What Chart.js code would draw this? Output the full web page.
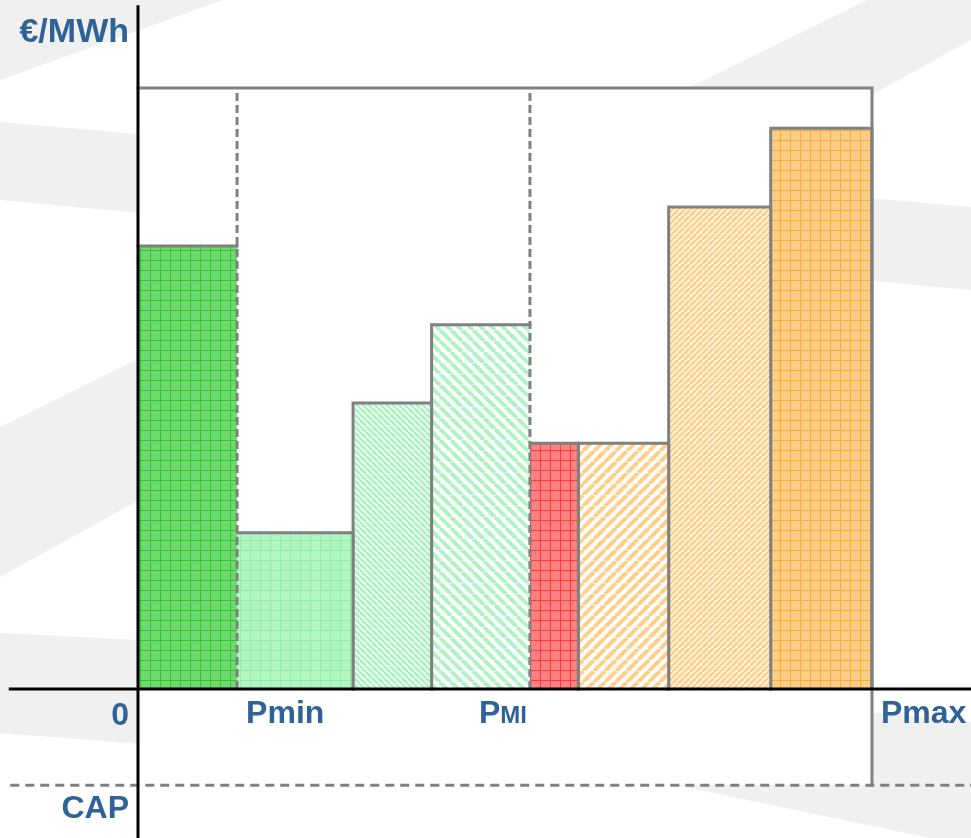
<!DOCTYPE html>
<html>
<head>
<meta charset="utf-8">
<title>Bid curve</title>
<script src="https://cdn.jsdelivr.net/npm/chart.js@4/dist/chart.umd.min.js"></script>
<style>
    html, body { margin: 0; padding: 0; background: #ffffff; }
    #wrap { width: 971px; height: 838px; }
</style>
</head>
<body>
<div id="wrap"><canvas id="bidChart" width="971" height="838"></canvas></div>
<script>
// Bid blocks: capacity edges (MW, 0..Pmax) and the price of each block (€/MWh)
const edgesMW = [0, 13.5, 29.3, 40, 53.4, 60, 72.3, 86.2, 100];
const bidPrices = [73.7, 26, 47.6, 60.6, 40.9, 40.9, 80.2, 93.3];

// reference levels
const priceTop = 100;    // price cap line at the top of the box
const capPrice = -16;    // CAP (floor) line below zero
const axisTopPrice = 113.5;

// x axis marks
const tickValues = [0, 13.5, 53.4, 100];
const tickLabels = ['0', 'Pmin', 'PMI', 'Pmax'];
const dashedAt = [13.5, 53.4];   // Pmin and PMI

// ---- styles ----
const GRAY = '#808080';
const TEXT_BLUE = '#2f6299';
const FONT = '"Liberation Sans", Arial, sans-serif';

function gridPattern(fill, line, step) {
    const c = document.createElement('canvas');
    c.width = step; c.height = step;
    const g = c.getContext('2d');
    g.fillStyle = fill;
    g.fillRect(0, 0, step, step);
    g.fillStyle = line;
    g.fillRect(0, 0, step, 1);
    g.fillRect(0, 0, 1, step);
    return g.createPattern(c, 'repeat');
}

function stripePattern(bg, color, step, width, dir) {
    const c = document.createElement('canvas');
    c.width = step; c.height = step;
    const g = c.getContext('2d');
    g.fillStyle = bg;
    g.fillRect(0, 0, step, step);
    g.strokeStyle = color;
    g.lineWidth = width;
    for (let x0 = -step; x0 <= step; x0 += step) {
        g.beginPath();
        if (dir === '/') {
            g.moveTo(x0, step); g.lineTo(x0 + step, 0);
        } else {
            g.moveTo(x0, 0); g.lineTo(x0 + step, step);
        }
        g.stroke();
    }
    return g.createPattern(c, 'repeat');
}

const bidPatterns = [
    gridPattern('#6fd86f', '#2cc82c', 10),
    gridPattern('#b0f5c2', '#94eca9', 10),
    stripePattern('#f0fcf4', '#a8f0be', 6, 2.5, '\\'),
    stripePattern('#ffffff', '#aef3c4', 11, 4, '\\'),
    gridPattern('#ff8080', '#ff3c3c', 10),
    stripePattern('#ffffff', '#ffcf88', 11, 4, '/'),
    stripePattern('#fff4e2', '#ffcd86', 6, 2.5, '/'),
    gridPattern('#ffcd85', '#ffab38', 10)
];

// ---- datasets ----
const datasets = [];

// black axes on top
datasets.push({
    data: [{ x: -17.4, y: 0 }, { x: 113.5, y: 0 }],
    borderColor: '#000000', borderWidth: 3, order: 0
});
datasets.push({
    data: [{ x: 0, y: -24.8 }, { x: 0, y: axisTopPrice }],
    borderColor: '#000000', borderWidth: 3, order: 0
});

// dashed Pmin / PMI guides
dashedAt.forEach(v => {
    datasets.push({
        data: [{ x: v, y: 0 }, { x: v, y: priceTop }],
        borderColor: GRAY, borderWidth: 3, borderDash: [8, 4], borderCapStyle: 'butt', order: 1
    });
});

// CAP line
datasets.push({
    data: [{ x: -17.4, y: capPrice }, { x: 113.5, y: capPrice }],
    borderColor: GRAY, borderWidth: 3, borderDash: [9, 6], borderCapStyle: 'butt', order: 1
});

// box: top price line and Pmax side
datasets.push({
    data: [{ x: 0, y: priceTop }, { x: 100, y: priceTop }, { x: 100, y: capPrice }],
    borderColor: GRAY, borderWidth: 3, borderJoinStyle: 'miter', order: 2
});

// bid blocks
bidPrices.forEach((price, i) => {
    const x0 = edgesMW[i];
    const x1 = edgesMW[i + 1];
    const pts = [{ x: x0, y: 0 }, { x: x0, y: price }, { x: x1, y: price }, { x: x1, y: 0 }];
    datasets.push({
        data: pts,
        fill: 'origin',
        backgroundColor: bidPatterns[i],
        borderColor: GRAY,
        borderWidth: 3,
        borderJoinStyle: 'miter',
        order: 3 + i,
        segment: {
            borderColor: ctx => {
                const a = ctx.p0.parsed, b = ctx.p1.parsed;
                if (a.x === b.x && dashedAt.includes(a.x)) return 'rgba(0,0,0,0)';
                if (a.x === b.x && a.x === 0) return 'rgba(0,0,0,0)';
                return GRAY;
            }
        }
    });
});

// ---- plugins ----
const backgroundPlugin = {
    id: 'swooshes',
    beforeDraw(chart) {
        const { ctx, width, height, scales } = chart;
        ctx.save();
        ctx.fillStyle = '#ffffff';
        ctx.fillRect(0, 0, width, height);
        ctx.fillStyle = '#f0f0f0';
        const shapes = [
            [[0, 0], [223, 0], [0, 80]],
            [[0, 427], [867, 0], [971, 0], [971, 40], [0, 577]],
            [[0, 122], [971, 207], [971, 290], [0, 200]],
            [[0, 633], [140, 640], [971, 722], [971, 838], [930, 838], [680, 786], [0, 733]]
        ];
        shapes.forEach(s => {
            ctx.beginPath();
            s.forEach(([x, y], k) => k ? ctx.lineTo(x, y) : ctx.moveTo(x, y));
            ctx.closePath();
            ctx.fill();
        });
        // white plotting box
        const xl = scales.x.getPixelForValue(0);
        const xr = scales.x.getPixelForValue(100);
        const yt = scales.y.getPixelForValue(priceTop);
        const yb = scales.y.getPixelForValue(capPrice);
        ctx.fillStyle = '#ffffff';
        ctx.fillRect(xl, yt, xr - xl, yb - yt);
        ctx.restore();
    }
};

const labelPlugin = {
    id: 'labels',
    afterDraw(chart) {
        const { ctx, scales } = chart;
        const x0 = scales.x.getPixelForValue(0);
        const y0 = scales.y.getPixelForValue(0);
        ctx.save();
        ctx.fillStyle = TEXT_BLUE;
        ctx.textBaseline = 'alphabetic';

        // y axis unit
        ctx.textAlign = 'right';
        ctx.font = 'bold 34px ' + FONT;
        ctx.fillText('€/MWh', x0 - 9, scales.y.getPixelForValue(axisTopPrice) + 35);
        // CAP
        ctx.font = 'bold 32px ' + FONT;
        ctx.fillText('CAP', x0 - 9, scales.y.getPixelForValue(capPrice) + 33);

        tickValues.forEach((v, i) => {
            const px = scales.x.getPixelForValue(v);
            const base = y0 + 34;
            const label = tickLabels[i];
            if (label === '0') {
                ctx.textAlign = 'right';
                ctx.font = 'bold 32px ' + FONT;
                ctx.fillText(label, px - 9, base + 2);
            } else if (label === 'PMI') {
                ctx.textAlign = 'left';
                ctx.font = 'bold 32px ' + FONT;
                const wP = ctx.measureText('P').width;
                ctx.font = 'bold 24px ' + FONT;
                const wMI = ctx.measureText('MI').width;
                const start = px - 3 - wP - wMI;
                ctx.font = 'bold 32px ' + FONT;
                ctx.fillText('P', start, base);
                ctx.font = 'bold 24px ' + FONT;
                ctx.fillText('MI', start + wP, base);
            } else {
                ctx.textAlign = 'left';
                ctx.font = 'bold 32px ' + FONT;
                ctx.fillText(label, px + 9, base);
            }
        });
        ctx.restore();
    }
};

new Chart(document.getElementById('bidChart'), {
    type: 'line',
    data: { datasets: datasets },
    options: {
        responsive: false,
        animation: false,
        events: [],
        devicePixelRatio: 1,
        layout: { padding: 0 },
        elements: {
            point: { radius: 0 },
            line: { tension: 0, borderCapStyle: 'square', fill: false }
        },
        scales: {
            x: { type: 'linear', display: false, min: -18.8, max: 113.49 },
            y: { type: 'linear', display: false, min: -24.79, max: 114.64 }
        },
        plugins: {
            legend: { display: false },
            tooltip: { enabled: false },
            filler: { propagate: false }
        }
    },
    plugins: [backgroundPlugin, labelPlugin]
});
</script>
</body>
</html>
